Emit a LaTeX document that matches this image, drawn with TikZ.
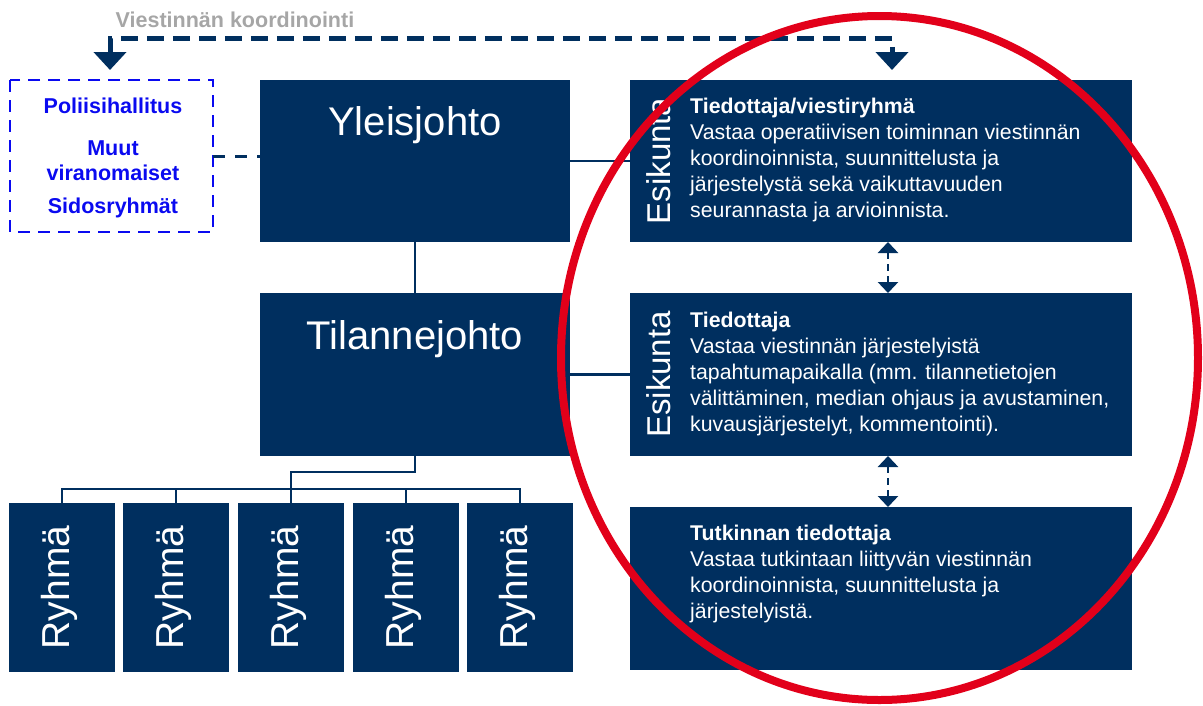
\documentclass[tikz,border=0pt]{standalone}
\usepackage{fontspec}
\setmainfont{Liberation Sans}
\usetikzlibrary{arrows.meta}
\definecolor{navy}{RGB}{0,47,95}
\definecolor{redc}{RGB}{226,0,26}
\definecolor{grayc}{RGB}{166,166,166}
\definecolor{bluec}{RGB}{10,10,240}
\begin{document}
\begin{tikzpicture}[x=1pt,y=-1pt,
  box/.style={fill=navy, draw=none, inner sep=0pt, outer sep=0pt, anchor=north west},
  txt/.style={inner sep=0pt, text=white, font=\fontsize{21.3}{26.2}\selectfont},
  bigtxt/.style={inner sep=0pt, text=white, font=\fontsize{40}{48}\selectfont},
  esik/.style={inner sep=0pt, text=white, rotate=90, anchor=base, font=\fontsize{33}{40}\selectfont},
  ryhma/.style={inner sep=0pt, text=white, rotate=90, anchor=base, font=\fontsize{39}{46}\selectfont},
  bluetxt/.style={inner sep=0pt, text=bluec, anchor=base, font=\fontsize{21.5}{25}\selectfont\bfseries},
  conn/.style={draw=navy, line width=2.4pt},
  topdash/.style={draw=navy, line width=5pt, dash pattern=on 17pt off 9pt,
    {Triangle[width=32pt,length=18pt]}-{Triangle[width=32pt,length=18pt]}},
  dbl/.style={draw=navy, line width=2.8pt, dash pattern=on 7pt off 5pt,
    {Triangle[width=20pt,length=11pt]}-{Triangle[width=20pt,length=11pt]}},
  bluedash/.style={draw=bluec, line width=2.8pt, dash pattern=on 12pt off 8pt},
  linkdash/.style={draw=navy, line width=3pt, dash pattern=on 12pt off 10pt}
]
\useasboundingbox (0,0) rectangle (1203,705);

% main boxes
\node[box, minimum width=310pt, minimum height=162pt] (yj) at (260,80) {};
\node[box, minimum width=310pt, minimum height=163pt] (tj) at (260,293) {};
\node[box, minimum width=502pt, minimum height=162pt] (r1) at (630,80) {};
\node[box, minimum width=502pt, minimum height=163pt] (r2) at (630,293) {};
\node[box, minimum width=502pt, minimum height=163pt] (r3) at (630,507) {};
\node[box, minimum width=106pt, minimum height=169pt] (g1) at (9,503) {};
\node[box, minimum width=106pt, minimum height=169pt] (g2) at (123,503) {};
\node[box, minimum width=106pt, minimum height=169pt] (g3) at (238,503) {};
\node[box, minimum width=106pt, minimum height=169pt] (g4) at (353,503) {};
\node[box, minimum width=106pt, minimum height=169pt] (g5) at (467,503) {};

% left dashed box
\node[draw=none, inner sep=0pt, outer sep=0pt, anchor=north west, minimum width=203pt, minimum height=152pt] (lb) at (10,80) {};
\draw[bluedash] (lb.north west) rectangle (lb.south east);

% texts
\node[inner sep=0pt, text=grayc, anchor=base, font=\fontsize{21.5}{24}\selectfont\bfseries] (title) at (235,27) {Viestinnän koordinointi};
\node[bluetxt] (lt1) at (113,113) {Poliisihallitus};
\node[bluetxt] (lt2) at (113,155) {\vtop{\hbox to 160pt{\hfil Muut\hfil}\hbox to 160pt{\hfil viranomaiset\hfil}}};
\node[bluetxt] (lt3) at (113,213) {Sidosryhmät};

\node[bigtxt, anchor=base] (yjt) at (415,135) {Yleisjohto};
\node[bigtxt, anchor=base] (tjt) at (415,349) {Tilannejohto};

\node[esik] (e1) at (670,161) {Esikunta};
\node[esik] (e2) at (670,374.5) {Esikunta};

\node[txt, anchor=base west] (t1) at (690,113) {\vtop{\hbox{\bfseries Tiedottaja/viestiryhmä}\hbox{Vastaa operatiivisen toiminnan viestinnän}\hbox{koordinoinnista, suunnittelusta ja}\hbox{järjestelystä sekä vaikuttavuuden}\hbox{seurannasta ja arvioinnista.}}};
\node[txt, anchor=base west] (t2) at (690,327) {\vtop{\hbox{\bfseries Tiedottaja}\hbox{Vastaa viestinnän järjestelyistä}\hbox{tapahtumapaikalla (mm. tilannetietojen}\hbox{välittäminen, median ohjaus ja avustaminen,}\hbox{kuvausjärjestelyt, kommentointi).}}};
\node[txt, anchor=base west] (t3) at (690,540) {\vtop{\hbox{\bfseries Tutkinnan tiedottaja}\hbox{Vastaa tutkintaan liittyvän viestinnän}\hbox{koordinoinnista, suunnittelusta ja}\hbox{järjestelyistä.}}};

\node[ryhma] (rt1) at ([xshift=7pt]g1.center) {Ryhmä};
\node[ryhma] (rt2) at ([xshift=7pt]g2.center) {Ryhmä};
\node[ryhma] (rt3) at ([xshift=7pt]g3.center) {Ryhmä};
\node[ryhma] (rt4) at ([xshift=7pt]g4.center) {Ryhmä};
\node[ryhma] (rt5) at ([xshift=7pt]g5.center) {Ryhmä};

% solid connectors
\draw[conn] (yj.south) -- (tj.north);
\draw[conn] (yj.east) -- (r1.west);
\draw[conn] (tj.east) -- (r2.west);
\draw[conn] (tj.south) -- ++(0,16) -| ([yshift=14pt]g3.north) -- (g3.north);
\draw[conn] (g1.north) -- ++(0,-14) -| (g5.north);
\draw[conn] (g2.north) -- ++(0,-14);
\draw[conn] (g4.north) -- ++(0,-14);

% dashed connectors
\coordinate (ltip) at (110,70);
\coordinate (rtip) at (892,70);
\draw[topdash] (ltip) -- (110,38) -- (892,38) -- (rtip);
\draw[linkdash] (lb.east) -- (lb.east -| yj.west);
\draw[dbl] ([xshift=7pt]r1.south) -- ([xshift=7pt]r2.north);
\draw[dbl] ([xshift=7pt]r2.south) -- ([xshift=7pt]r3.north);

% red highlight ellipse
\draw[redc, line width=8pt] (879.5,358) ellipse [x radius=318.5pt, y radius=342pt];
\end{tikzpicture}
\end{document}
